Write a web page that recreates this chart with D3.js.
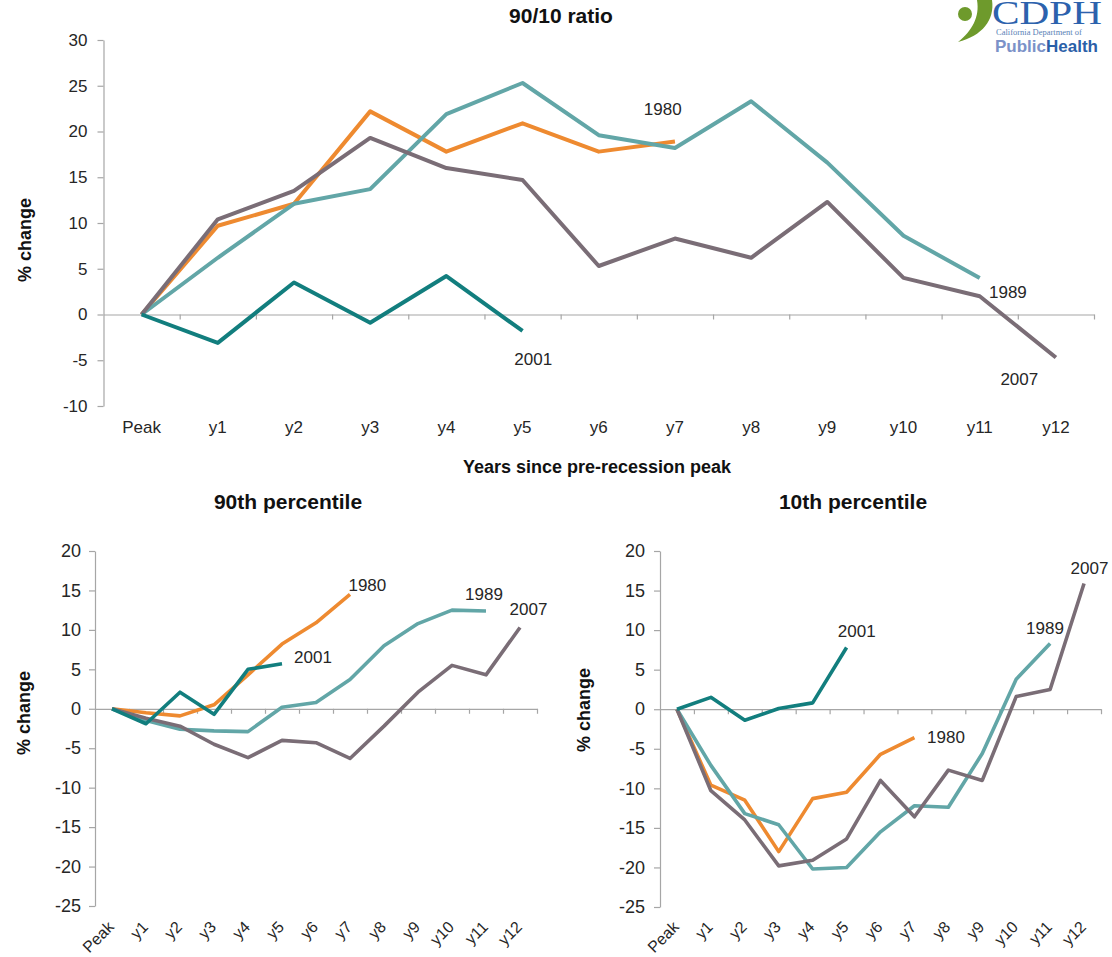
<!DOCTYPE html>
<html>
<head>
<meta charset="utf-8">
<script src="https://cdn.jsdelivr.net/npm/d3@7"></script>
<style>
  body { margin: 0; background: #fff; }
  svg { display: block; font-family: 'Liberation Sans', Arial, sans-serif; }
  .axis path, .axis line { stroke: #a6a6a6; stroke-width: 1.2; }
  .axis text { fill: #262626; font-family: 'Liberation Sans', Arial, sans-serif; }
  .cat { fill: #262626; }
  .chart-title { font-weight: bold; font-size: 21px; fill: #111; }
  .axis-title { font-weight: bold; font-size: 18px; fill: #111; }
  .series-label { font-size: 17px; fill: #262626; }
</style>
</head>
<body>
<svg id="chart" width="1112" height="957"></svg>
<script>
const categories = ['Peak', 'y1', 'y2', 'y3', 'y4', 'y5', 'y6', 'y7', 'y8', 'y9', 'y10', 'y11', 'y12'];
const recessions = ['1980', '1989', '2007', '2001'];   // draw order

// 90/10 ratio, % change since pre-recession peak
const ratio1980 = [0, 9.7, 12.1, 22.2, 17.8, 20.9, 17.8, 18.9];
const ratio1989 = [0, 6.2, 12.1, 13.7, 21.9, 25.3, 19.6, 18.2, 23.3, 16.6, 8.6, 4.0];
const ratio2001 = [0, -3.1, 3.5, -0.9, 4.2, -1.8];
const ratio2007 = [0, 10.4, 13.5, 19.3, 16.0, 14.7, 5.3, 8.3, 6.2, 12.3, 4.0, 2.0, -4.7];

// 90th percentile
const p90_1980 = [0, -0.5, -0.9, 0.5, 4.3, 8.2, 10.9, 14.5];
const p90_1989 = [0, -1.5, -2.6, -2.8, -2.9, 0.2, 0.8, 3.7, 8.0, 10.8, 12.5, 12.4];
const p90_2001 = [0, -1.9, 2.1, -0.7, 5.0, 5.7];
const p90_2007 = [0, -1.2, -2.2, -4.5, -6.2, -4.0, -4.3, -6.3, -2.2, 2.1, 5.5, 4.3, 10.3];

// 10th percentile
const p10_1980 = [0, -9.6, -11.5, -18.0, -11.3, -10.5, -5.7, -3.6];
const p10_1989 = [0, -7.1, -13.2, -14.6, -20.2, -20.0, -15.5, -12.2, -12.4, -5.6, 3.8, 8.3];
const p10_2001 = [0, 1.5, -1.4, 0.1, 0.8, 7.8];
const p10_2007 = [0, -10.3, -14.0, -19.8, -19.1, -16.4, -9.0, -13.6, -7.7, -9.0, 1.6, 2.5, 15.9];

const ratioTicks = [-10, -5, 0, 5, 10, 15, 20, 25, 30];
const pctTicks = [-25, -20, -15, -10, -5, 0, 5, 10, 15, 20];

const COLORS = {
  '1980': '#ee8a30',
  '1989': '#62a6a7',
  '2001': '#127e7e',
  '2007': '#7a6d76'
};

const svg = d3.select('#chart');

drawChart(svg, {
  title: '90/10 ratio', titleX: 561, titleY: 23,
  left: 103.5, right: 1094, top: 40, bottom: 406,
  domain: [-10, 30], ticks: ratioTicks, tickFont: 17, tickPad: 10,
  yTitleX: 25, yTitleY: 240,
  xTitle: 'Years since pre-recession peak', xTitleX: 597, xTitleY: 473,
  labelY: 433, rotate: false, lineWidth: 4,
  series: { '1980': ratio1980, '1989': ratio1989, '2001': ratio2001, '2007': ratio2007 },
  // label anchors in (category index, value) space
  labels: { '1980': [6.84, 22.5], '1989': [11.37, 2.5], '2001': [5.14, -4.9], '2007': [11.52, -7.1] }
});

drawChart(svg, {
  title: '90th percentile', titleX: 288, titleY: 509,
  left: 95, right: 537, top: 551, bottom: 906,
  domain: [-25, 20], ticks: pctTicks, tickFont: 18, tickPad: 8,
  yTitleX: 24, yTitleY: 713,
  labelY: 924, rotate: true, lineWidth: 3.6,
  series: { '1980': p90_1980, '1989': p90_1989, '2001': p90_2001, '2007': p90_2007 },
  labels: { '1980': [7.51, 15.7], '1989': [10.94, 14.6], '2001': [5.91, 6.5], '2007': [12.25, 12.7] }
});

drawChart(svg, {
  title: '10th percentile', titleX: 853, titleY: 509,
  left: 660, right: 1101, top: 551, bottom: 907,
  domain: [-25, 20], ticks: pctTicks, tickFont: 18, tickPad: 9,
  yTitleX: 584, yTitleY: 710,
  labelY: 924, rotate: true, lineWidth: 3.6,
  series: { '1980': p10_1980, '1989': p10_1989, '2001': p10_2001, '2007': p10_2007 },
  labels: { '1980': [7.93, -3.5], '1989': [10.85, 10.3], '2001': [5.3, 9.9], '2007': [12.16, 17.9] }
});

drawLogo(svg);

function drawChart(svg, opt) {
  const g = svg.append('g').attr('class', 'chart');

  const x = d3.scalePoint()
    .domain(categories)
    .range([opt.left, opt.right])
    .padding(0.5);

  // category boundaries, for the tick marks on the zero line
  const edge = d3.scaleLinear()
    .domain([0, categories.length])
    .range([opt.left, opt.right]);

  const y = d3.scaleLinear()
    .domain(opt.domain)
    .range([opt.bottom, opt.top]);

  g.append('g')
    .attr('class', 'axis y-axis')
    .attr('transform', `translate(${opt.left},0)`)
    .call(d3.axisLeft(y)
      .tickValues(opt.ticks)
      .tickSize(6)
      .tickSizeOuter(0)
      .tickPadding(opt.tickPad)
      .tickFormat(d => String(d)))
    .call(a => a.selectAll('text').attr('font-size', opt.tickFont));

  g.append('g')
    .attr('class', 'axis x-axis')
    .attr('transform', `translate(0,${y(0)})`)
    .call(d3.axisBottom(edge)
      .tickValues(d3.range(1, categories.length + 1))
      .tickSize(5)
      .tickSizeOuter(0)
      .tickFormat(''));

  const cats = g.append('g')
    .attr('class', 'categories')
    .selectAll('text')
    .data(categories)
    .join('text')
    .attr('class', 'cat')
    .text(d => d);

  if (opt.rotate) {
    cats
      .attr('font-size', 16)
      .attr('text-anchor', 'end')
      .attr('dy', '0.35em')
      .attr('transform', d => `translate(${x(d) - 1},${opt.labelY}) rotate(-45)`);
  } else {
    cats
      .attr('font-size', 17)
      .attr('text-anchor', 'middle')
      .attr('x', d => x(d))
      .attr('y', opt.labelY);
  }

  const line = d3.line()
    .x((d, i) => x(categories[i]))
    .y(d => y(d));

  recessions.forEach(key => {
    g.append('path')
      .datum(opt.series[key])
      .attr('class', `line line-${key}`)
      .attr('d', line)
      .attr('fill', 'none')
      .attr('stroke', COLORS[key])
      .attr('stroke-width', opt.lineWidth)
      .attr('stroke-linejoin', 'round');
  });

  const xAt = i => x(categories[0]) + i * x.step();

  recessions.forEach(key => {
    const [i, v] = opt.labels[key];
    g.append('text')
      .attr('class', 'series-label')
      .attr('x', xAt(i))
      .attr('y', y(v))
      .attr('dy', '0.35em')
      .attr('text-anchor', 'middle')
      .text(key);
  });

  g.append('text')
    .attr('class', 'chart-title')
    .attr('x', opt.titleX)
    .attr('y', opt.titleY)
    .attr('text-anchor', 'middle')
    .text(opt.title);

  g.append('text')
    .attr('class', 'axis-title')
    .attr('transform', `translate(${opt.yTitleX},${opt.yTitleY}) rotate(-90)`)
    .attr('text-anchor', 'middle')
    .attr('dy', '0.35em')
    .text('% change');

  if (opt.xTitle) {
    g.append('text')
      .attr('class', 'axis-title')
      .attr('x', opt.xTitleX)
      .attr('y', opt.xTitleY)
      .attr('text-anchor', 'middle')
      .text(opt.xTitle);
  }
}

function drawLogo(svg) {
  const logo = svg.append('g').attr('class', 'logo');

  logo.append('circle')
    .attr('cx', 965)
    .attr('cy', 14)
    .attr('r', 7)
    .attr('fill', '#6e9a2c');

  logo.append('path')
    .attr('d', 'M977,0 L992,0 C995,20 982,36 958,42 C972,31 980,17 977,0 Z')
    .attr('fill', '#6e9a2c');

  logo.append('text')
    .attr('x', 992)
    .attr('y', 24)
    .attr('font-family', "'Liberation Serif', 'DejaVu Serif', serif")
    .attr('font-size', 33)
    .attr('textLength', 110)
    .attr('lengthAdjust', 'spacingAndGlyphs')
    .attr('fill', '#2c62ad')
    .text('CDPH');

  logo.append('text')
    .attr('x', 996)
    .attr('y', 35)
    .attr('font-family', "'Liberation Serif', serif")
    .attr('font-size', 8.5)
    .attr('fill', '#5a7fb6')
    .text('California Department of');

  const ph = logo.append('text')
    .attr('x', 995)
    .attr('y', 52)
    .attr('font-size', 17)
    .attr('font-weight', 'bold');
  ph.append('tspan').attr('fill', '#7b92c8').text('Public');
  ph.append('tspan').attr('fill', '#2a60a8').text('Health');
}
</script>
</body>
</html>
